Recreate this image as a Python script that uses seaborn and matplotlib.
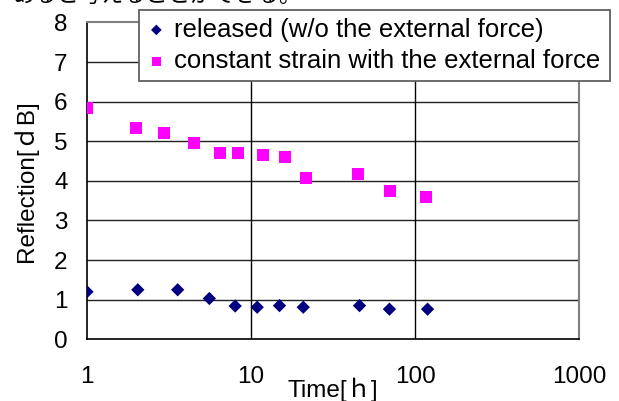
import pandas as pd
import seaborn as sns
import matplotlib.pyplot as plt

# Données
time_released = [1, 2.04, 3.57, 5.57, 8.0, 10.9, 14.9, 20.8, 45.8, 69.7, 119]
refl_released = [1.20, 1.25, 1.25, 1.03, 0.84, 0.81, 0.85, 0.81, 0.85, 0.76, 0.76]

time_strain = [1, 2.0, 2.95, 4.5, 6.5, 8.3, 11.8, 16.0, 21.7, 45.1, 70.7, 117]
refl_strain = [5.83, 5.34, 5.20, 4.95, 4.71, 4.71, 4.65, 4.61, 4.08, 4.18, 3.75, 3.60]

label_released = 'released (w/o the external force)'
label_strain = 'constant strain with the external force'

x_ticks = [1, 10, 100, 1000]
y_ticks = [0, 1, 2, 3, 4, 5, 6, 7, 8]

df_released = pd.DataFrame({'time': time_released, 'refl': refl_released})
df_strain = pd.DataFrame({'time': time_strain, 'refl': refl_strain})

sns.set_style('white')
plt.rcParams['font.family'] = ['Liberation Sans', 'Noto Sans CJK JP']
plt.rcParams['text.color'] = 'black'
plt.rcParams['xtick.color'] = 'black'
plt.rcParams['ytick.color'] = 'black'
plt.rcParams['axes.labelcolor'] = 'black'

fig = plt.figure(figsize=(6.19, 4.01), dpi=100)
ax = fig.add_axes([0.1405, 0.1539, 0.7953, 0.790])

sns.scatterplot(x='time', y='refl', data=df_released, ax=ax, marker='D', s=46,
                color='#000080', edgecolor='none', label=label_released, zorder=3)
sns.scatterplot(x='time', y='refl', data=df_strain, ax=ax, marker='s', s=75,
                color='#FF00FF', edgecolor='none', label=label_strain, zorder=3)

ax.set_xscale('log')
ax.set_xlim(1, 1000)
ax.set_ylim(0, 8)
ax.set_xticks(x_ticks)
ax.set_xticklabels([str(t) for t in x_ticks])
ax.set_yticks(y_ticks)
ax.minorticks_off()

# Grille
for y in y_ticks[1:-1]:
    ax.axhline(y, color='#222222', lw=1, zorder=1)
for x in x_ticks[1:-1]:
    ax.axvline(x, color='black', lw=1, zorder=1)

for side in ['left', 'bottom']:
    ax.spines[side].set_color('black')
    ax.spines[side].set_linewidth(1.2)
for side in ['top', 'right']:
    ax.spines[side].set_color('#808080')
    ax.spines[side].set_linewidth(1.5)

ax.tick_params(axis='both', direction='in', length=7, width=1.2,
               labelsize=17.5)
ax.tick_params(axis='x', pad=19)
ax.tick_params(axis='y', pad=14)

ax.set_xlabel('Time[ｈ]', fontsize=17.5)
ax.set_ylabel('Reflection[ｄB]', fontsize=17.5)
ax.xaxis.set_label_coords(0.5, -0.12)
ax.yaxis.set_label_coords(-0.1, 0.5)

leg = ax.legend(loc='center', bbox_to_anchor=(139 / 619, 1 - 84 / 401, 471 / 619, 77 / 401),
                bbox_transform=fig.transFigure, mode='expand', borderaxespad=0,
                fontsize=18.5, frameon=True, fancybox=False, framealpha=1,
                edgecolor='#606060', borderpad=0.3, handlelength=0.75,
                handletextpad=0.3, labelspacing=0.3, markerscale=0.8)
leg.get_frame().set_linewidth(1.3)

# Texte coupé en haut de l'image
fig.text(13 / 619, 1 - 2 / 401, 'あると考えることができる。', fontsize=16,
         family='Noto Sans CJK JP', va='baseline', ha='left')

fig.savefig('out.png', dpi=100)
